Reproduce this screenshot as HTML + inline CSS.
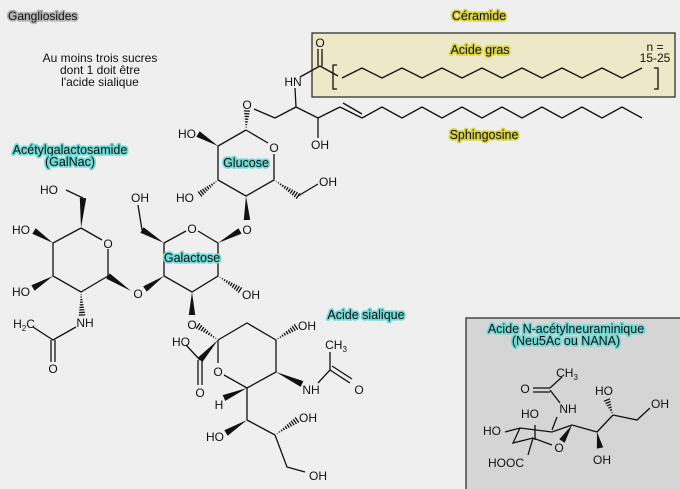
<!DOCTYPE html>
<html><head><meta charset="utf-8"><style>
html,body{margin:0;padding:0;background:#efefef;}
svg{display:block;}
text{font-family:"Liberation Sans",sans-serif;font-size:12px;fill:#111;}
.c{text-anchor:middle;}
.cy{paint-order:stroke;stroke:#6fd9d6;stroke-width:3.5px;stroke-linejoin:round;font-size:12.5px;}
.ye{paint-order:stroke;stroke:#d8d23c;stroke-width:3.5px;stroke-linejoin:round;font-size:12.5px;}
.gr{paint-order:stroke;stroke:#b5b5b5;stroke-width:3.5px;stroke-linejoin:round;}
</style></head><body>
<svg id="s" width="680" height="489" viewBox="0 0 680 489" xmlns="http://www.w3.org/2000/svg">
<rect x="312" y="33" width="363" height="64" fill="#ede9c8" stroke="#222" stroke-width="1.2"/>
<rect x="466" y="318" width="220" height="180" fill="#d5d5d5" stroke="#222" stroke-width="1.2"/>
<g id="b" stroke="#111" stroke-width="1.3" fill="none"></g>
<g id="w" fill="#111"></g>
<text x="8" y="20" class="gr" font-size="12.5">Gangliosides</text>
<text x="479" y="20" class="c ye" font-size="13">Céramide</text>
<text x="480" y="54" class="c ye">Acide gras</text>
<text x="484" y="139" class="c ye">Sphingosine</text>
<text x="655" y="51" class="c" font-size="10.5">n =</text>
<text x="655" y="62" class="c" font-size="10.5">15-25</text>
<text x="100" y="62" class="c" font-size="12.5">Au moins trois sucres</text>
<text x="100" y="74" class="c" font-size="12.5">dont 1 doit être</text>
<text x="100" y="86" class="c" font-size="12.5">l'acide sialique</text>
<text x="70" y="154" class="c cy">Acétylgalactosamide</text>
<text x="70" y="166" class="c cy">(GalNac)</text>
<text x="246" y="167" class="c cy">Glucose</text>
<text x="192" y="262" class="c cy">Galactose</text>
<text x="366" y="319" class="c cy">Acide sialique</text>
<text x="566" y="333" class="c cy">Acide N-acétylneuraminique</text>
<text x="566" y="345" class="c cy">(Neu5Ac ou NANA)</text>
<g id="t"></g>
</svg>
<script>
var b=document.getElementById('b'),w=document.getElementById('w'),t=document.getElementById('t');
var NS='http://www.w3.org/2000/svg';
function L(){var a=arguments;var d='M'+a[0]+' '+a[1];for(var i=2;i<a.length;i+=2)d+=' L'+a[i]+' '+a[i+1];var p=document.createElementNS(NS,'path');p.setAttribute('d',d);b.appendChild(p);}
function W(x1,y1,x2,y2,h){h=h||3.2;var dx=x2-x1,dy=y2-y1,l=Math.hypot(dx,dy),nx=-dy/l*h,ny=dx/l*h;var p=document.createElementNS(NS,'polygon');p.setAttribute('points',x1+','+y1+' '+(x2+nx)+','+(y2+ny)+' '+(x2-nx)+','+(y2-ny));w.appendChild(p);}
function H(x1,y1,x2,y2,h){h=h||3.2;var dx=x2-x1,dy=y2-y1,l=Math.hypot(dx,dy),n=Math.max(4,Math.round(l/2.6));for(var i=1;i<=n;i++){var f=i/n,cx=x1+dx*f,cy=y1+dy*f,s=h*f,nx=-dy/l*s,ny=dx/l*s;L(cx+nx,cy+ny,cx-nx,cy-ny);}}
function T(x,y,s,sz){var e=document.createElementNS(NS,'text');e.setAttribute('x',x);e.setAttribute('y',y+4);e.setAttribute('text-anchor','middle');if(sz)e.setAttribute('font-size',sz);e.innerHTML=s;t.appendChild(e);}
// ceramide fatty acid
L(300,77,320,66);L(318,66,318,49);L(322,66,322,49);T(320,43,'O');T(293,82,'HN');
L(320,66,338,76);
var pts=[342,78];for(var i=1,x=362;x<=652;x+=20,i++)pts.push(x,i%2?68:78);
L.apply(null,pts);
L(337,65,333,65,333,89,337,89);L(654,68,658,68,658,89,654,89);
// sphingosine
L(295,88,296,107);L(296,107,275,118,254,109);L(296,107,318,118,340,107);
L(318,118,318,138);T(320,145,'OH');
L(340,107,362,118);L(343,103,362,114);
pts=[362,118];for(var i=1,x=382;x<=652;x+=20,i++)pts.push(x,i%2?107:118);L.apply(null,pts);
// glucose
T(247,105,'O');H(246,130,247,111,3);
L(246,130,268,143);T(274,148,'O');L(274,154,274,180,246,196,218,180,218,146,246,130);
W(218,146,198,134);T(187,134,'HO');
H(218,180,200,194);T(185,198,'HO');
H(274,180,298,196);L(298,196,318,184);T(328,182,'OH');
W(246,196,247,220);T(247,230,'O');
// galactose
W(218,243,240,231);L(218,243,198,231);T(192,229,'O');L(186,231,164,243);
L(218,243,218,276,192,292,164,276,164,243);
H(218,276,240,290);T(251,295,'OH');
W(192,292,192,315);T(192,325,'O');
W(164,276,145,289);T(138,294,'O');
W(164,243,142,230);L(142,230,138,205);T(140,198,'OH');
// GalNAc
W(131,291,108,276);L(108,276,108,249);T(108,244,'O');L(102,240,81,228);
L(108,276,81,292,53,276,53,243,81,228);
W(53,276,33,288);T(21,292,'HO');
W(53,243,34,231);T(21,230,'HO');
W(81,228,83,198);L(83,198,66,190);T(49,190,'HO');
H(81,292,82,315);T(85,323,'NH');
L(76,327,53,340,33,327);T(24,324,'H<tspan font-size="8" dy="3">2</tspan><tspan dy="-3">C</tspan>');
L(51,340,51,362);L(55,340,55,362);T(53,369,'O');
// sialic acid
H(218,340,198,326);
L(218,340,247,323,276,340,276,372,247,388,224,375);L(218,340,218,363);T(218,372,'O');
H(276,340,296,327);T(307,326,'OH');
W(276,372,302,384);T(311,390,'NH');
L(318,383,330,370,330,352);L(330,370,350,383);L(332,366,352,379);T(336,345,'CH<tspan font-size="8" dy="3">3</tspan>');T(359,390,'O');
W(247,388,224,398);T(219,405,'H');
W(218,340,200,360);L(200,360,186,345);T(181,342,'HO');L(198,360,198,385);L(202,360,202,385);T(200,393,'O');
L(247,388,247,420);W(247,420,226,433);T(215,437,'HO');
L(247,420,275,435);H(275,435,297,420);T(308,418,'OH');
L(275,435,287,467,305,472);T(318,476,'OH');
// NANA small
T(567,373,'CH<tspan font-size="8" dy="3">3</tspan>',12.5);L(550,388,562,377);
L(550,388,533,388);L(550,392,533,392);T(525,389,'O',12.5);
L(550,390,560,403);T(568,409,'NH',12.5);
L(557,417,552,430);
L(505,432,520,428,552,432,572,425);L(520,428,513,443,533,438,552,445);L(533,438,528,455);
W(572,425,562,441);L(535,425,535,440);
T(492,431,'HO',12.5);T(530,414,'HO',12.5);T(506,463,'HOOC',12.5);T(559,448,'O',12.5);
L(572,425,597,432);W(597,432,600,448);T(602,460,'OH',12.5);
L(597,432,613,415);H(613,415,607,400);T(604,391,'HO',12.5);
L(613,415,637,420,650,408);T(660,404,'OH',12.5);
</script>
</body></html>
